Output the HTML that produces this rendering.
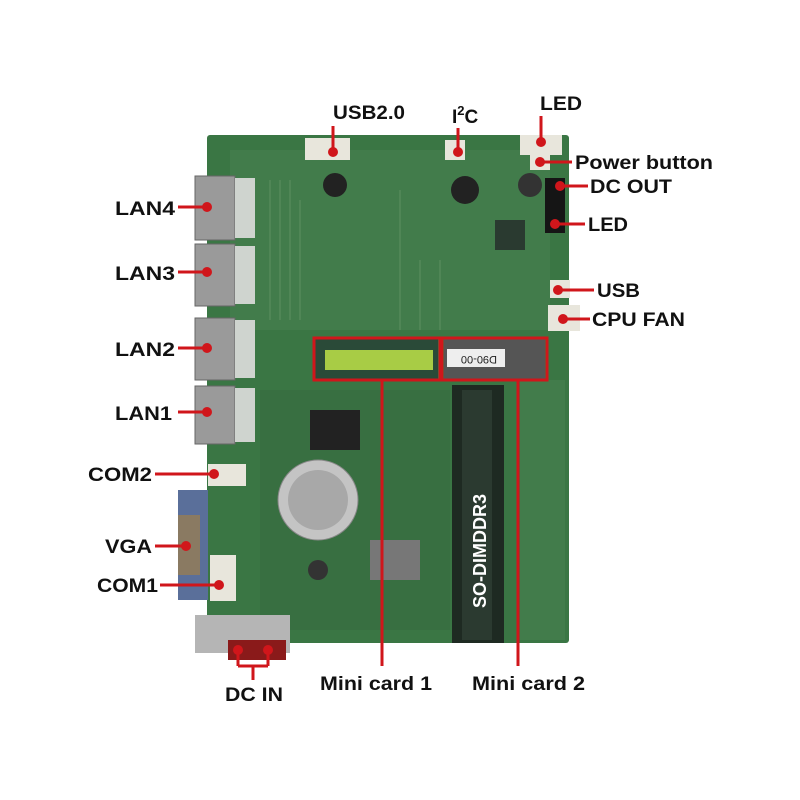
<!DOCTYPE html><html><head><style>body{margin:0;background:#fff}svg{display:block}text{font-family:"Liberation Sans",Arial,sans-serif;font-weight:bold;font-size:19px;fill:#111}</style></head><body>
<svg width="800" height="800" viewBox="0 0 800 800">
<rect width="800" height="800" fill="#fff"/>
<rect x="207" y="135" width="362" height="508" fill="#3a7644" rx="3"/>
<rect x="230" y="150" width="320" height="180" fill="#427c4b"/>
<rect x="260" y="390" width="190" height="240" fill="#386f41"/>
<rect x="520" y="380" width="45" height="260" fill="#427c4b"/>
<g stroke="#6fa070" stroke-width="1" opacity=".6">
<line x1="270" y1="180" x2="270" y2="320"/><line x1="280" y1="180" x2="280" y2="320"/><line x1="290" y1="180" x2="290" y2="320"/><line x1="300" y1="200" x2="300" y2="320"/>
<line x1="400" y1="190" x2="400" y2="330"/><line x1="420" y1="260" x2="420" y2="330"/><line x1="440" y1="260" x2="440" y2="330"/>
</g>
<g fill="#9a9a9a" stroke="#666">
<rect x="195" y="176" width="40" height="64"/><rect x="195" y="244" width="40" height="62"/><rect x="195" y="318" width="40" height="62"/><rect x="195" y="386" width="40" height="58"/>
</g>
<g fill="#cfd4cf"><rect x="235" y="178" width="20" height="60"/><rect x="235" y="246" width="20" height="58"/><rect x="235" y="320" width="20" height="58"/><rect x="235" y="388" width="20" height="54"/></g>
<rect x="208" y="464" width="38" height="22" fill="#e8e6dc"/>
<rect x="178" y="490" width="30" height="110" fill="#5a6f9a"/>
<rect x="178" y="515" width="22" height="60" fill="#8a7a62"/>
<rect x="210" y="555" width="26" height="46" fill="#e8e6dc"/>
<rect x="195" y="615" width="95" height="38" fill="#b5b5b5"/>
<rect x="228" y="640" width="58" height="20" fill="#8a1a1a"/>
<circle cx="318" cy="500" r="40" fill="#c4c4c4" stroke="#888"/>
<circle cx="318" cy="500" r="30" fill="#a8a8a8"/>
<circle cx="318" cy="570" r="10" fill="#333"/>
<rect x="310" y="410" width="50" height="40" fill="#222"/>
<rect x="495" y="220" width="30" height="30" fill="#2a3a30"/>
<circle cx="335" cy="185" r="12" fill="#222"/><circle cx="465" cy="190" r="14" fill="#222"/><circle cx="530" cy="185" r="12" fill="#333"/>
<rect x="370" y="540" width="50" height="40" fill="#777"/>
<rect x="315" y="339" width="123" height="40" fill="#2a4a38"/>
<rect x="325" y="350" width="108" height="20" fill="#a8cc45"/>
<rect x="444" y="339" width="101" height="40" fill="#555"/>
<rect x="447" y="349" width="58" height="18" fill="#eee"/>
<text x="455" y="364" style="font-size:11px;font-weight:normal;fill:#222" transform="rotate(180 476 360)">D90-00</text>
<rect x="452" y="385" width="52" height="258" fill="#1e2a22"/>
<rect x="462" y="390" width="30" height="250" fill="#2b3a30"/>
<text x="0" y="0" style="fill:#fff;font-size:18px" transform="translate(486,608) rotate(-90)">SO-DIMDDR3</text>
<rect x="305" y="138" width="45" height="22" fill="#e8e6dc"/>
<rect x="445" y="140" width="20" height="20" fill="#e8e6dc"/>
<rect x="520" y="135" width="42" height="20" fill="#e8e6dc"/>
<rect x="530" y="155" width="20" height="15" fill="#e8e6dc"/>
<rect x="545" y="178" width="20" height="55" fill="#151515"/>
<rect x="550" y="280" width="20" height="18" fill="#e8e6dc"/>
<rect x="548" y="305" width="32" height="26" fill="#e8e6dc"/>
<g stroke="#d0161b" stroke-width="3" fill="none">
<rect x="314" y="338" width="126" height="42"/><rect x="442" y="338" width="105" height="42"/>
<line x1="382" y1="380" x2="382" y2="666"/><line x1="518" y1="380" x2="518" y2="666"/>
<line x1="178" y1="207" x2="207" y2="207"/><line x1="178" y1="272" x2="207" y2="272"/><line x1="178" y1="348" x2="207" y2="348"/><line x1="178" y1="412" x2="207" y2="412"/>
<line x1="155" y1="474" x2="214" y2="474"/><line x1="155" y1="546" x2="186" y2="546"/><line x1="160" y1="585" x2="219" y2="585"/>
<line x1="238" y1="650" x2="238" y2="666"/><line x1="268" y1="650" x2="268" y2="666"/><line x1="238" y1="666" x2="268" y2="666"/><line x1="253" y1="666" x2="253" y2="680"/>
<line x1="333" y1="126" x2="333" y2="152"/><line x1="458" y1="128" x2="458" y2="152"/><line x1="541" y1="116" x2="541" y2="142"/>
<line x1="540" y1="162" x2="572" y2="162"/><line x1="560" y1="186" x2="588" y2="186"/><line x1="555" y1="224" x2="585" y2="224"/>
<line x1="558" y1="290" x2="594" y2="290"/><line x1="563" y1="319" x2="590" y2="319"/>
</g>
<g fill="#d0161b">
<circle cx="207" cy="207" r="5"/><circle cx="207" cy="272" r="5"/><circle cx="207" cy="348" r="5"/><circle cx="207" cy="412" r="5"/>
<circle cx="214" cy="474" r="5"/><circle cx="186" cy="546" r="5"/><circle cx="219" cy="585" r="5"/>
<circle cx="238" cy="650" r="5"/><circle cx="268" cy="650" r="5"/>
<circle cx="333" cy="152" r="5"/><circle cx="458" cy="152" r="5"/><circle cx="541" cy="142" r="5"/>
<circle cx="540" cy="162" r="5"/><circle cx="560" cy="186" r="5"/><circle cx="555" cy="224" r="5"/><circle cx="558" cy="290" r="5"/><circle cx="563" cy="319" r="5"/>
</g>
<text x="115" y="215" textLength="60" lengthAdjust="spacingAndGlyphs">LAN4</text>
<text x="115" y="280" textLength="60" lengthAdjust="spacingAndGlyphs">LAN3</text>
<text x="115" y="356" textLength="60" lengthAdjust="spacingAndGlyphs">LAN2</text>
<text x="115" y="420" textLength="57" lengthAdjust="spacingAndGlyphs">LAN1</text>
<text x="88" y="481" textLength="64" lengthAdjust="spacingAndGlyphs">COM2</text>
<text x="105" y="553" textLength="47" lengthAdjust="spacingAndGlyphs">VGA</text>
<text x="97" y="592" textLength="61" lengthAdjust="spacingAndGlyphs">COM1</text>
<text x="225" y="701" textLength="58" lengthAdjust="spacingAndGlyphs">DC IN</text>
<text x="320" y="690" textLength="112" lengthAdjust="spacingAndGlyphs">Mini card 1</text>
<text x="472" y="690" textLength="113" lengthAdjust="spacingAndGlyphs">Mini card 2</text>
<text x="333" y="119" textLength="72" lengthAdjust="spacingAndGlyphs">USB2.0</text>
<text x="452" y="123">I<tspan dy="-8" style="font-size:13px">2</tspan><tspan dy="8">C</tspan></text>
<text x="540" y="110" textLength="42" lengthAdjust="spacingAndGlyphs">LED</text>
<text x="575" y="169" textLength="138" lengthAdjust="spacingAndGlyphs">Power button</text>
<text x="590" y="193" textLength="82" lengthAdjust="spacingAndGlyphs">DC OUT</text>
<text x="588" y="231" textLength="40" lengthAdjust="spacingAndGlyphs">LED</text>
<text x="597" y="297" textLength="43" lengthAdjust="spacingAndGlyphs">USB</text>
<text x="592" y="326" textLength="93" lengthAdjust="spacingAndGlyphs">CPU FAN</text>
</svg></body></html>
